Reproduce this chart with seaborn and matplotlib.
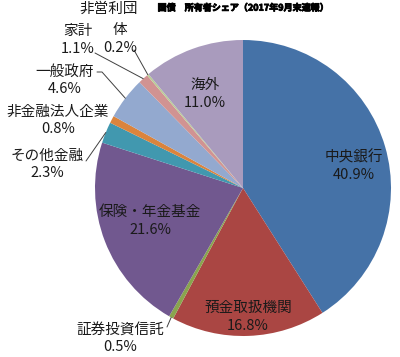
import numpy as np
import seaborn as sns
import matplotlib.pyplot as plt
import matplotlib.patheffects as pe

# 国債 所有者シェア (2017年9月末速報)
sectors = ["中央銀行", "預金取扱機関", "証券投資信託", "保険・年金基金", "その他金融",
           "非金融法人企業", "一般政府", "家計", "非営利団体", "海外"]
shares = [40.9, 16.8, 0.5, 21.6, 2.3, 0.8, 4.6, 1.1, 0.2, 11.0]
colors = ["#4572A7", "#AA4643", "#89A54E", "#71588F", "#4198AF",
          "#DB843D", "#93A9CF", "#D19392", "#B9CD96", "#A99BBD"]

sns.set_theme(style="white")
plt.rcParams['font.family'] = ['Noto Sans CJK JP', 'DejaVu Sans']
plt.rcParams['axes.unicode_minus'] = False

fig = plt.figure(figsize=(4, 3.57), dpi=100)
# pie centre ~ (243, 188) px, radius ~148 px
cx, cy, rad = 243, 188, 148
ax = fig.add_axes([(cx - rad) / 400, (357 - cy - rad) / 357, 2 * rad / 400, 2 * rad / 357])

wedges, _ = ax.pie(shares, colors=sns.color_palette(colors), startangle=90,
                   counterclock=False, radius=1.0,
                   wedgeprops=dict(linewidth=0))
ax.set_xlim(-1, 1)
ax.set_ylim(-1, 1)
ax.axis('off')


def px2d(px, py):
    return (px - cx) / rad, (cy - py) / rad


def edge(i, r=1.0):
    w = wedges[i]
    a = np.deg2rad((w.theta1 + w.theta2) / 2)
    return r * np.cos(a), r * np.sin(a)


# label block centres (pixel coords of the picture)
label_pos = {
    "中央銀行": (354, 166),
    "預金取扱機関": (248, 317),
    "証券投資信託": (120, 338),
    "保険・年金基金": (150, 221),
    "その他金融": (47, 164),
    "非金融法人企業": (58, 120),
    "一般政府": (65, 80),
    "家計": (78, 40),
    "海外": (205, 94),
}
fs = 10.5
ls = 1.3
for name, val in zip(sectors, shares):
    if name == "非営利団体":
        continue
    x, y = px2d(*label_pos[name])
    ax.text(x, y, f"{name}\n{val:.1f}%", ha='center', va='center', fontsize=fs,
            color='#1a1a1a', linespacing=ls)

# 非営利団体 wraps over two lines
v = shares[sectors.index("非営利団体")]
x, y = px2d(109, 9)
ax.text(x, y, "非営利団", ha='center', va='center', fontsize=fs, color='#1a1a1a')
x, y = px2d(120, 39)
ax.text(x, y, f"体\n{v:.1f}%", ha='center', va='center', fontsize=fs,
        color='#1a1a1a', linespacing=ls)

# leader lines
leaders = {
    "証券投資信託": [(167, 327)],
    "その他金融": [(86, 161)],
    "一般政府": [(97, 72), (102, 72)],
    "家計": [(95, 53)],
    "非営利団体": [(134, 50)],
}
for name, pts in leaders.items():
    xs = [px2d(*p)[0] for p in pts]
    ys = [px2d(*p)[1] for p in pts]
    ex, ey = edge(sectors.index(name))
    ax.plot(xs + [ex], ys + [ey], color='#404040', lw=0.7, clip_on=False)

fig.text(243 / 400, 1 - 8 / 357, "国債　所有者シェア（2017年9月末速報）", ha='center',
         va='center', fontsize=6.5, fontweight='bold', color='#000000',
         path_effects=[pe.withStroke(linewidth=0.6, foreground='#000000')])

fig.savefig("out.png", dpi=100)
